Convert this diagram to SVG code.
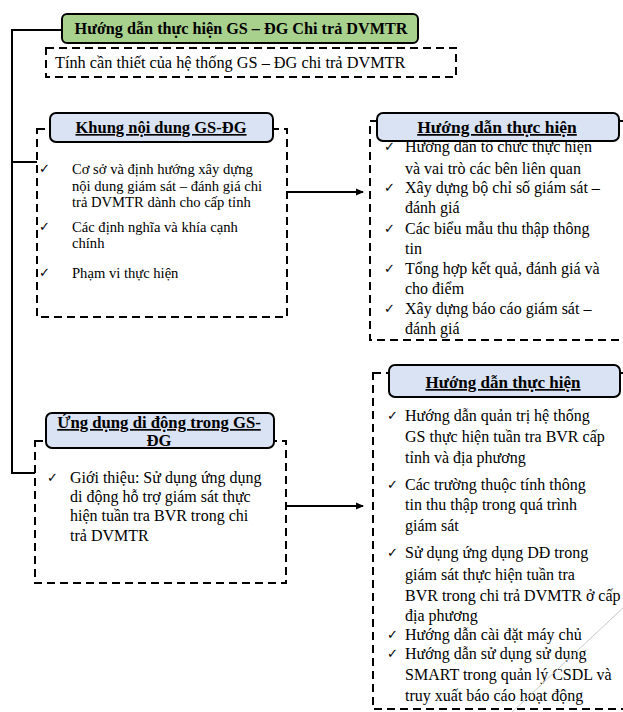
<svg xmlns="http://www.w3.org/2000/svg" width="623" height="712" viewBox="0 0 623 712">
<defs>
<marker id="ah" markerWidth="8" markerHeight="8" refX="7" refY="4" orient="auto" markerUnits="userSpaceOnUse">
<path d="M0,0.5 L8,4 L0,7.5 Z" fill="#000"/>
</marker>
<style>
.dash{fill:none;stroke:#000;stroke-width:2;stroke-dasharray:8 5}
.hdr{fill:#dae3f3;stroke:#000;stroke-width:2}
.conn{fill:none;stroke:#000;stroke-width:2}
.t{font-family:"Liberation Serif","Times New Roman",serif;fill:#000}
.hb{font-family:"Liberation Serif","Times New Roman",serif;font-weight:bold;text-decoration:underline;fill:#000;text-anchor:middle}
.ck{font-family:"DejaVu Sans",sans-serif;font-size:13px;fill:#000}
</style>
</defs>
<rect width="623" height="712" fill="#fff"/>

<g id="connectors">
<polyline class="conn" points="62,30 12,30 12,473 35,473"/>
<line class="conn" x1="12" y1="162" x2="37" y2="162"/>
<line class="conn" x1="286" y1="192" x2="363" y2="192" marker-end="url(#ah)"/>
<line class="conn" x1="286" y1="506" x2="363" y2="506" marker-end="url(#ah)"/>
</g>

<g id="title">
<rect x="62" y="14" width="356" height="29" rx="5" fill="#a9d18e" stroke="#000" stroke-width="2"/>
<text x="241" y="34" font-family="Liberation Serif, Times New Roman, serif" font-weight="bold" font-size="16.2" text-anchor="middle">Hướng dẫn thực hiện GS – ĐG Chi trả DVMTR</text>
</g>

<g id="necessity">
<rect class="dash" x="46" y="48" width="410" height="29"/>
<text class="t" x="55" y="68" font-size="16.3">Tính cần thiết của hệ thống GS – ĐG chi trả DVMTR</text>
</g>

<g id="khung">
<rect class="dash" x="37" y="129" width="250" height="188"/>
<rect class="hdr" x="50" y="113" width="223" height="29" rx="6"/>
<text class="hb" x="161" y="133" font-size="16.5">Khung nội dung GS-ĐG</text>
<g class="t" font-size="14.6">
<text class="ck" x="39" y="173">✓</text>
<text x="72" y="174">Cơ sở và định hướng xây  dựng</text>
<text x="72" y="191">nội dung giám  sát – đánh giá chi</text>
<text x="72" y="207">trả  DVMTR dành  cho cấp tỉnh</text>
<text class="ck" x="39" y="231">✓</text>
<text x="72" y="232">Các  định nghĩa và khía cạnh</text>
<text x="72" y="248">chính</text>
<text class="ck" x="39" y="277">✓</text>
<text x="72" y="278">Phạm  vi thực hiện</text>
</g>
</g>

<g id="huongdan1">
<rect class="dash" x="370" y="121" width="262" height="219"/>
<g class="t" font-size="16">
<text class="ck" x="384" y="151">✓</text>
<text x="405" y="152">Hướng dẫn tổ chức thực hiện</text>
<text x="405" y="174">và vai trò các bên liên quan</text>
<text class="ck" x="384" y="192">✓</text>
<text x="405" y="193">Xây dựng bộ chỉ số giám sát –</text>
<text x="405" y="213">đánh giá</text>
<text class="ck" x="384" y="233">✓</text>
<text x="405" y="234">Các biểu mẫu thu thập thông</text>
<text x="405" y="254">tin</text>
<text class="ck" x="384" y="273">✓</text>
<text x="405" y="274">Tổng hợp kết quả, đánh giá và</text>
<text x="405" y="294">cho điểm</text>
<text class="ck" x="384" y="313">✓</text>
<text x="405" y="314">Xây dựng báo cáo giám sát –</text>
<text x="405" y="334">đánh giá</text>
</g>
<rect class="hdr" x="377" y="113" width="242" height="28" rx="6"/>
<text class="hb" x="497" y="133" font-size="17.5">Hướng dẫn thực hiện</text>
</g>

<g id="ungdung">
<rect class="dash" x="35" y="441" width="251" height="142"/>
<rect class="hdr" x="46" y="413" width="228" height="35" rx="6"/>
<text class="hb" x="159" y="428" font-size="16.7">Ứng dụng di động trong GS-</text>
<text class="hb" x="159" y="446" font-size="16.7">ĐG</text>
<g class="t" font-size="16">
<text class="ck" x="47" y="482">✓</text>
<text x="70" y="483">Giới thiệu:  Sử dụng ứng dụng</text>
<text x="70" y="502">di động  hỗ trợ giám sát thực</text>
<text x="70" y="521">hiện  tuần tra BVR trong chi</text>
<text x="70" y="541">trả DVMTR</text>
</g>
</g>

<g id="huongdan2">
<rect class="dash" x="373" y="373" width="259" height="336"/>
<rect class="hdr" x="389" y="365" width="231" height="32" rx="6"/>
<text class="hb" x="503" y="388" font-size="17">Hướng dẫn thực hiện</text>
<g class="t" font-size="16">
<text class="ck" x="387" y="420">✓</text>
<text x="405" y="421">Hướng dẫn quản  trị hệ thống</text>
<text x="405" y="442">GS thực hiện tuần tra BVR cấp</text>
<text x="405" y="463">tỉnh và địa phương</text>
<text class="ck" x="387" y="489">✓</text>
<text x="405" y="490">Các trường thuộc tính thông</text>
<text x="405" y="510">tin thu thập trong quá trình</text>
<text x="405" y="531">giám sát</text>
<text class="ck" x="387" y="557">✓</text>
<text x="405" y="558">Sử dụng  ứng dụng  DĐ trong</text>
<text x="405" y="580">giám sát thực hiện tuần tra</text>
<text x="405" y="601">BVR trong chi trả DVMTR ở cấp</text>
<text x="405" y="621">địa phương</text>
<text class="ck" x="387" y="639">✓</text>
<text x="405" y="640">Hướng dẫn cài đặt máy chủ</text>
<text class="ck" x="387" y="658">✓</text>
<text x="405" y="659">Hướng dẫn sử dụng  sử dụng</text>
<text x="405" y="680">SMART trong  quản lý CSDL và</text>
<text x="405" y="701">truy xuất báo cáo hoạt động</text>
</g>
</g>

<line x1="625" y1="606" x2="510" y2="714" stroke="#c8c8c8" stroke-width="1"/>
</svg>
